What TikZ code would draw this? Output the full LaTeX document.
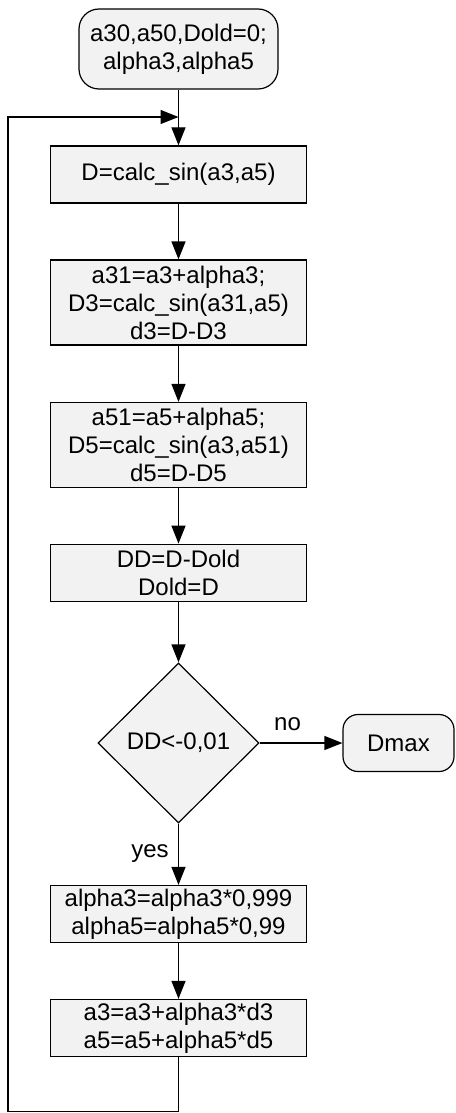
\documentclass[tikz,border=0pt]{standalone}
\usepackage{fontspec}
\setmainfont{Liberation Sans}
\usetikzlibrary{shapes.geometric,arrows.meta}
\definecolor{boxgray}{RGB}{242,242,242}

\begin{document}
\begin{tikzpicture}[x=0.5pt,y=-0.5pt,
  font=\fontsize{12}{14}\selectfont,
  box/.style={draw, fill=boxgray, line width=0.6pt, minimum width=128pt, minimum height=28.5pt, align=center, inner sep=1pt},
  term/.style={box, rounded corners=10pt},
  decision/.style={diamond, draw, fill=boxgray, line width=0.6pt, minimum width=80.5pt, minimum height=80pt, inner sep=0pt},
  flow/.style={line width=0.6pt, -{Triangle[length=9pt,width=7pt]}},
  lbl/.style={inner sep=0pt, anchor=base}]
\useasboundingbox (0,0) rectangle (455,1113);
\node[term, minimum width=99.5pt, minimum height=40pt] (start) at (178.5,49) {a30,a50,Dold=0;\\alpha3,alpha5};
\node[box] (calc) at (178.5,174.5) {D=calc\_sin(a3,a5)};
\node[box, minimum height=42.5pt] (step3) at (178.5,302.5) {a31=a3+alpha3;\\D3=calc\_sin(a31,a5)\\d3=D-D3};
\node[box, minimum height=42.5pt] (step5) at (178.5,445) {a51=a5+alpha5;\\D5=calc\_sin(a3,a51)\\d5=D-D5};
\node[box] (delta) at (178.5,572.7) {DD=D-Dold\\Dold=D};
\node[decision] (check) at (178.5,743) {DD<-0,01};
\node[term, rounded corners=7.5pt, minimum width=55.5pt] (dmax) at (398.5,743) {Dmax};
\node[box] (shrink) at (178.5,914) {alpha3=alpha3*0,999\\alpha5=alpha5*0,99};
\node[box] (update) at (178.5,1028) {a3=a3+alpha3*d3\\a5=a5+alpha5*d5};
\node[lbl] (nolbl) at (287.5,730) {no};
\node[lbl] (yeslbl) at (150,857) {yes};
\coordinate (join) at (178.5,117);
\coordinate (bottom) at (178.5,1111.5);
\coordinate (corner) at (8,1111.5);

% main line
\draw[flow] (start) -- (calc);
\draw[flow] (calc) -- (step3);
\draw[flow] (step3) -- (step5);
\draw[flow] (step5) -- (delta);
\draw[flow] (delta) -- (check);
\draw[flow] (check) -- (dmax);
\draw[flow] (check) -- (shrink);
\draw[flow] (shrink) -- (update);
% back to the top
\draw[flow] (update) -- (bottom) -- (corner) |- (join);
\end{tikzpicture}
\end{document}
